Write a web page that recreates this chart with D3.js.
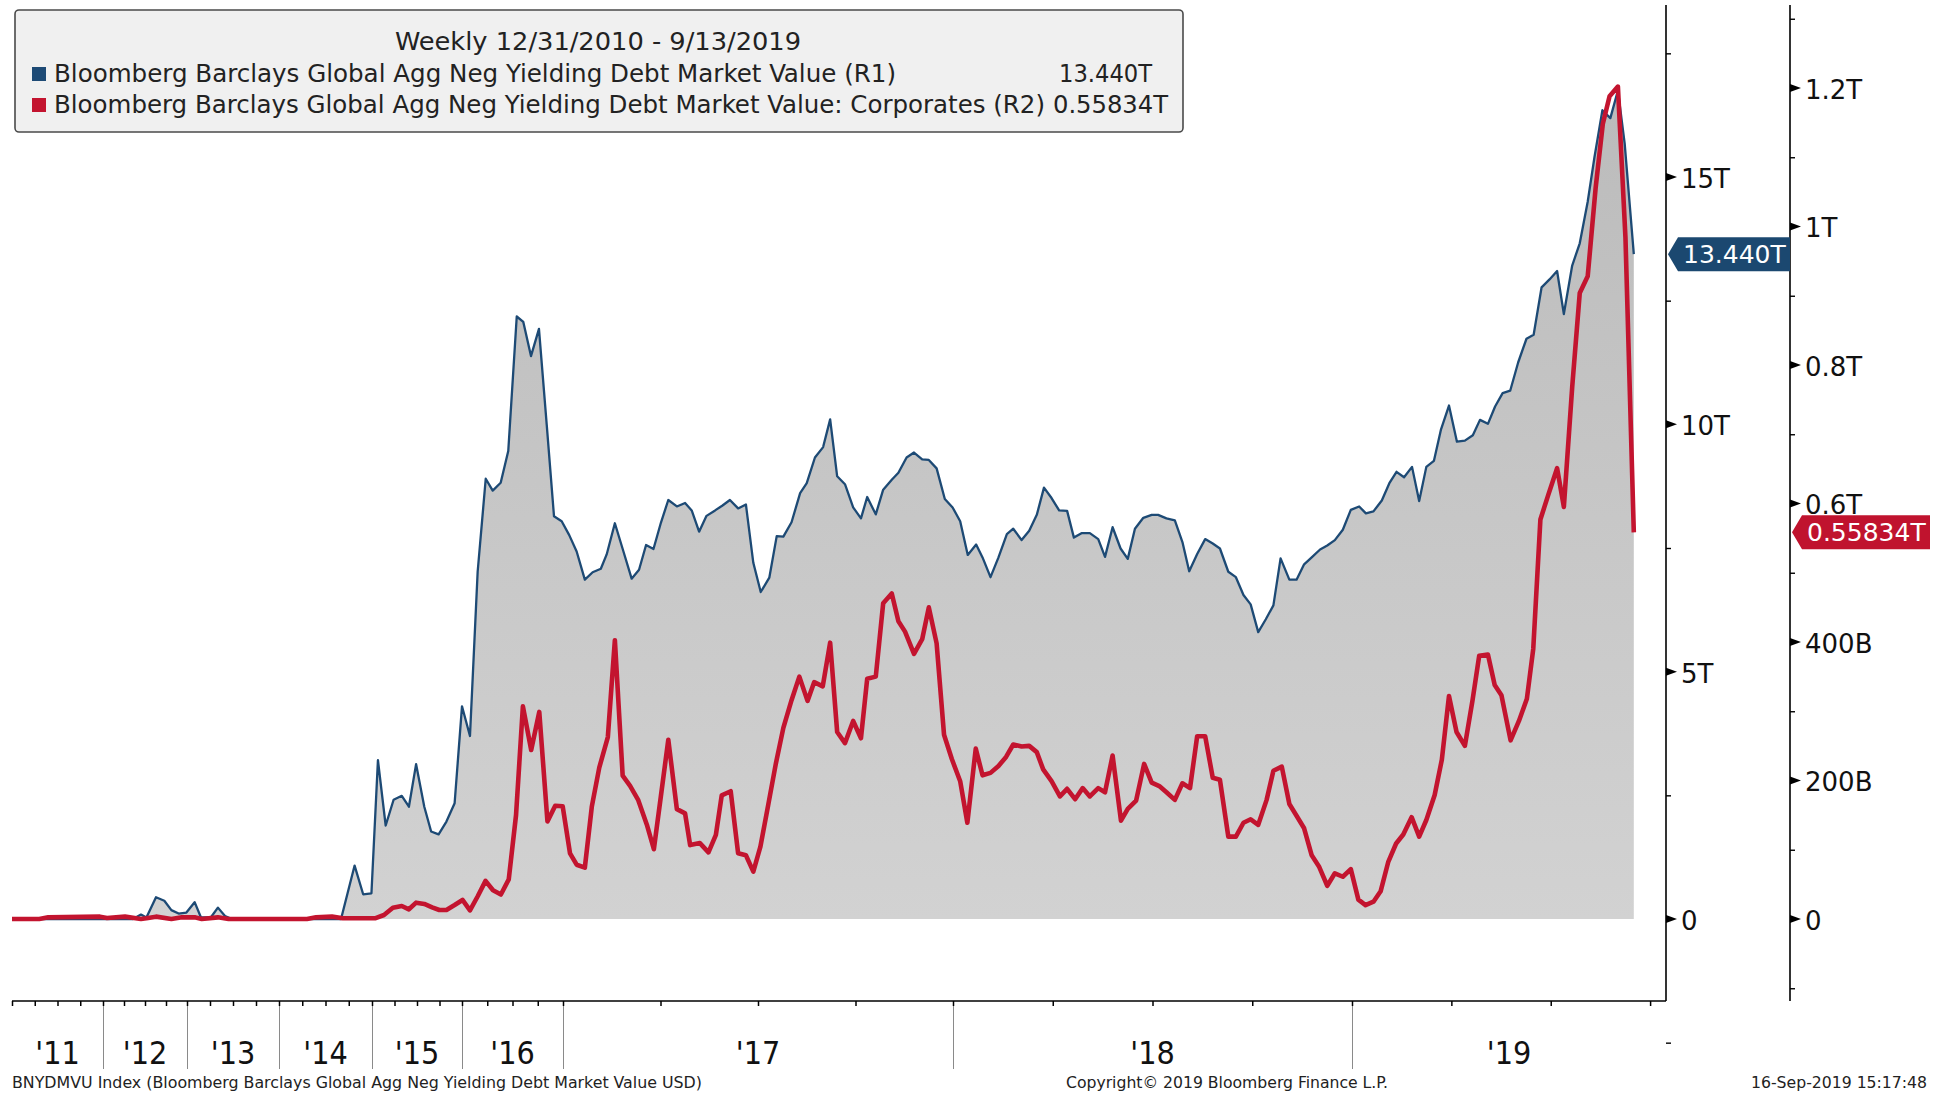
<!DOCTYPE html>
<html>
<head>
<meta charset="utf-8">
<script src="https://cdn.jsdelivr.net/npm/d3@7"></script>
<style>
  body { margin: 0; background: #fff; }
  svg { display: block; font-family: "DejaVu Sans", sans-serif; }
  .cond { font-family: "DejaVu Sans Condensed", "DejaVu Sans", sans-serif; font-stretch: condensed; }
</style>
</head>
<body>
<svg width="1939" height="1093"></svg>
<script>
// R1: total neg-yielding debt (trillions), R2: corporates (billions)
// [decimal year, value] -- monthly until end of 2016, weekly after that
const r1Points = [
  [2011.000, 0], [2012.357, 0], [2012.452, 0.09], [2012.517, 0.03], [2012.631, 0.44], [2012.730, 0.37],
  [2012.814, 0.18], [2012.900, 0.11], [2012.993, 0.13], [2013.083, 0.34], [2013.152, 0.03], [2013.258, 0.03],
  [2013.336, 0.23], [2013.413, 0.06], [2013.489, 0], [2014.667, 0], [2014.813, 1.08], [2014.905, 0.50],
  [2014.994, 0.52], [2015.066, 3.21], [2015.152, 1.89], [2015.240, 2.41], [2015.331, 2.49], [2015.410, 2.27],
  [2015.490, 3.13], [2015.581, 2.27], [2015.657, 1.77], [2015.740, 1.71], [2015.827, 1.97], [2015.918, 2.34],
  [2016.000, 4.30], [2016.079, 3.70], [2016.155, 7.02], [2016.235, 8.90], [2016.304, 8.66], [2016.383, 8.82],
  [2016.458, 9.46], [2016.542, 12.18], [2016.607, 12.07], [2016.683, 11.38], [2016.762, 11.93], [2016.839, 9.99],
  [2016.911, 8.14], [2016.987, 8.04],
  [2017.016, 7.76], [2017.035, 7.43], [2017.056, 6.86], [2017.076, 7.01], [2017.097, 7.08], [2017.112, 7.37],
  [2017.133, 8.00], [2017.155, 7.43], [2017.176, 6.88], [2017.195, 7.06], [2017.213, 7.56], [2017.232, 7.48],
  [2017.251, 8.01], [2017.270, 8.47], [2017.292, 8.34], [2017.313, 8.41], [2017.330, 8.26], [2017.349, 7.83],
  [2017.368, 8.15], [2017.390, 8.26], [2017.409, 8.36], [2017.428, 8.47], [2017.449, 8.30], [2017.469, 8.38],
  [2017.488, 7.20], [2017.507, 6.61], [2017.529, 6.90], [2017.548, 7.74], [2017.565, 7.73], [2017.586, 8.02],
  [2017.608, 8.61], [2017.625, 8.81], [2017.646, 9.33], [2017.667, 9.54], [2017.685, 10.10], [2017.703, 8.95],
  [2017.723, 8.79], [2017.744, 8.32], [2017.764, 8.10], [2017.780, 8.53], [2017.802, 8.18], [2017.821, 8.68],
  [2017.843, 8.88], [2017.860, 9.02], [2017.881, 9.33], [2017.900, 9.43], [2017.921, 9.29], [2017.938, 9.28],
  [2017.958, 9.11], [2017.979, 8.49], [2017.999, 8.32],
  [2018.018, 8.04], [2018.037, 7.36], [2018.058, 7.57], [2018.074, 7.31], [2018.094, 6.91], [2018.114, 7.31],
  [2018.135, 7.78], [2018.151, 7.89], [2018.172, 7.66], [2018.191, 7.85], [2018.210, 8.17], [2018.228, 8.72],
  [2018.247, 8.51], [2018.266, 8.26], [2018.286, 8.25], [2018.303, 7.71], [2018.322, 7.80], [2018.343, 7.80],
  [2018.364, 7.68], [2018.381, 7.32], [2018.400, 7.92], [2018.420, 7.49], [2018.438, 7.28], [2018.456, 7.89],
  [2018.477, 8.11], [2018.498, 8.17], [2018.514, 8.17], [2018.535, 8.10], [2018.556, 8.06], [2018.575, 7.62],
  [2018.592, 7.03], [2018.612, 7.38], [2018.632, 7.68], [2018.651, 7.59], [2018.669, 7.49], [2018.690, 7.02],
  [2018.709, 6.91], [2018.728, 6.55], [2018.746, 6.36], [2018.765, 5.80], [2018.784, 6.06], [2018.803, 6.34],
  [2018.821, 7.29], [2018.843, 6.86], [2018.861, 6.86], [2018.880, 7.17], [2018.899, 7.31], [2018.920, 7.47],
  [2018.938, 7.55], [2018.957, 7.66], [2018.977, 7.87], [2018.997, 8.27],
  [2019.018, 8.34], [2019.035, 8.20], [2019.054, 8.24], [2019.075, 8.46], [2019.094, 8.81], [2019.112, 9.04],
  [2019.131, 8.93], [2019.151, 9.14], [2019.169, 8.45], [2019.187, 9.14], [2019.206, 9.26], [2019.224, 9.90],
  [2019.244, 10.38], [2019.264, 9.65], [2019.284, 9.67], [2019.304, 9.78], [2019.322, 10.09], [2019.342, 10.01],
  [2019.360, 10.36], [2019.379, 10.63], [2019.398, 10.68], [2019.418, 11.25], [2019.439, 11.73], [2019.457, 11.81],
  [2019.477, 12.77], [2019.497, 12.93], [2019.516, 13.10], [2019.533, 12.23], [2019.554, 13.21], [2019.573, 13.66],
  [2019.593, 14.50], [2019.610, 15.40], [2019.630, 16.35], [2019.650, 16.19], [2019.669, 16.75], [2019.686, 15.68],
  [2019.709, 13.44]
];

const r2Points = [
  [2011.000, 0], [2011.300, 0], [2011.398, 2.4], [2011.967, 3.4], [2012.048, 1.5], [2012.262, 3.4],
  [2012.452, 0], [2012.517, 1], [2012.631, 3.4], [2012.814, 0], [2012.940, 2.4], [2013.083, 2.4],
  [2013.160, 0], [2013.336, 2.4], [2013.452, 0], [2014.301, 0], [2014.398, 2.4], [2014.570, 3.4],
  [2014.687, 1], [2015.033, 1], [2015.133, 5.8], [2015.232, 16.3], [2015.331, 18.8], [2015.410, 14],
  [2015.490, 23.6], [2015.581, 21.7], [2015.668, 16.9], [2015.748, 13], [2015.827, 13], [2015.918, 20.2],
  [2016.005, 27.5], [2016.079, 12.5], [2016.157, 33.2], [2016.233, 55], [2016.307, 41.5], [2016.385, 35.4],
  [2016.463, 57.3], [2016.535, 150], [2016.603, 307], [2016.685, 244], [2016.765, 299], [2016.846, 141],
  [2016.923, 163.6], [2016.997, 162.7],
  [2017.018, 94.9], [2017.035, 78.4], [2017.056, 74.2], [2017.074, 162.7], [2017.093, 218.6], [2017.115, 262.8],
  [2017.133, 402.6], [2017.153, 207], [2017.172, 192.2], [2017.193, 171.6], [2017.215, 136.2], [2017.233, 100.8],
  [2017.251, 177.5], [2017.270, 258.8], [2017.292, 158.6], [2017.313, 152.6], [2017.326, 106.7], [2017.351, 109.6],
  [2017.373, 96.2], [2017.392, 121.4], [2017.407, 178.6], [2017.430, 184.5], [2017.449, 94.9], [2017.469, 92],
  [2017.488, 68.4], [2017.506, 104], [2017.526, 164], [2017.546, 225], [2017.565, 276], [2017.586, 316],
  [2017.606, 350], [2017.627, 315], [2017.644, 342], [2017.666, 336], [2017.685, 399], [2017.703, 270],
  [2017.723, 254], [2017.744, 286], [2017.764, 261], [2017.780, 347], [2017.802, 350], [2017.821, 456],
  [2017.843, 470], [2017.860, 430], [2017.877, 415], [2017.900, 383], [2017.921, 404], [2017.938, 450],
  [2017.958, 398], [2017.977, 266], [2017.997, 231],
  [2018.018, 199], [2018.036, 139], [2018.057, 246], [2018.074, 207.5], [2018.094, 211], [2018.114, 221],
  [2018.133, 234], [2018.151, 252], [2018.172, 249], [2018.191, 250], [2018.210, 241], [2018.226, 216],
  [2018.247, 199], [2018.268, 177], [2018.286, 188], [2018.306, 173], [2018.325, 189], [2018.343, 177],
  [2018.364, 189], [2018.381, 183], [2018.400, 236], [2018.421, 142], [2018.438, 159], [2018.459, 171],
  [2018.479, 224], [2018.498, 197], [2018.517, 192], [2018.535, 183], [2018.556, 172], [2018.575, 196],
  [2018.594, 189], [2018.612, 264], [2018.632, 264], [2018.651, 204], [2018.669, 201], [2018.690, 119],
  [2018.709, 119], [2018.728, 139], [2018.746, 144], [2018.765, 136], [2018.786, 172], [2018.803, 214],
  [2018.824, 220], [2018.843, 166], [2018.861, 149], [2018.880, 131], [2018.899, 92], [2018.918, 75],
  [2018.938, 48], [2018.957, 66], [2018.977, 61], [2018.997, 72],
  [2019.016, 28], [2019.034, 20], [2019.054, 25], [2019.072, 40], [2019.091, 82], [2019.111, 109],
  [2019.129, 122], [2019.150, 147], [2019.169, 119], [2019.187, 143], [2019.208, 179], [2019.226, 230],
  [2019.244, 322], [2019.263, 270], [2019.284, 250], [2019.303, 315], [2019.320, 380], [2019.342, 382],
  [2019.359, 338], [2019.376, 323], [2019.399, 258], [2019.420, 286], [2019.440, 318], [2019.456, 390],
  [2019.474, 577], [2019.493, 611], [2019.516, 651], [2019.533, 595], [2019.554, 768], [2019.573, 904],
  [2019.593, 928], [2019.613, 1056], [2019.631, 1148], [2019.648, 1188], [2019.669, 1202], [2019.688, 984],
  [2019.709, 558.34]
];

const years = [2011, 2012, 2013, 2014, 2015, 2016, 2017, 2018, 2019];
const yearLabels = ["'11", "'12", "'13", "'14", "'15", "'16", "'17", "'18", "'19"];
const leftTicks = [0, 5, 10, 15];
const leftTickLabels = ['0', '5T', '10T', '15T'];
const rightTicks = [0, 200, 400, 600, 800, 1000, 1200];
const rightTickLabels = ['0', '200B', '400B', '0.6T', '0.8T', '1T', '1.2T'];

const legendTitle = 'Weekly 12/31/2010 - 9/13/2019';
const seriesNames = [
  'Bloomberg Barclays Global Agg Neg Yielding Debt Market Value (R1)',
  'Bloomberg Barclays Global Agg Neg Yielding Debt Market Value: Corporates (R2)'
];
const lastLabels = ['13.440T', '0.55834T'];

const blue = '#1d4a75';
const red = '#c3142f';

const svg = d3.select('svg');

// bloomberg plots by observation, monthly years get squeezed
const axisEnd = 2019.79;
const edgeYears = years.concat([axisEnd]);
const edgePx = [12, 103, 187, 279, 372, 462, 563, 953, 1352, 1666];
const xScale = d3.scaleLinear().domain(edgeYears).range(edgePx);

const zeroY = 919;
const yLeft = d3.scaleLinear().domain([0, 15]).range([zeroY, 177]);
const yRight = d3.scaleLinear().domain([0, 1200]).range([zeroY, 88]);

const axisTopY = 5;
const axisBottomY = 1001;
const leftAxisX = 1666;
const rightAxisX = 1790;

// gradient for the shaded area
const defs = svg.append('defs');
const grad = defs.append('linearGradient')
  .attr('id', 'areaGrad')
  .attr('gradientUnits', 'userSpaceOnUse')
  .attr('x1', 0).attr('x2', 0)
  .attr('y1', 80).attr('y2', zeroY);
grad.append('stop').attr('offset', '0%').attr('stop-color', '#bbbbbb');
grad.append('stop').attr('offset', '100%').attr('stop-color', '#d2d2d2');

const area = d3.area()
  .x(d => xScale(d[0]))
  .y0(yLeft(0))
  .y1(d => yLeft(d[1]));

svg.append('path')
  .datum(r1Points)
  .attr('d', area)
  .attr('fill', 'url(#areaGrad)');

svg.append('path')
  .datum(r1Points)
  .attr('d', d3.line().x(d => xScale(d[0])).y(d => yLeft(d[1])))
  .attr('fill', 'none')
  .attr('stroke', blue)
  .attr('stroke-width', 2.3)
  .attr('stroke-linejoin', 'round');

svg.append('path')
  .datum(r2Points)
  .attr('d', d3.line().x(d => xScale(d[0])).y(d => yRight(d[1])))
  .attr('fill', 'none')
  .attr('stroke', red)
  .attr('stroke-width', 4.6)
  .attr('stroke-linejoin', 'round');

// ---- x axis ----
const xAxisG = svg.append('g').attr('transform', `translate(0,${axisBottomY})`);
const quarters = d3.range(2011, axisEnd, 0.25);

xAxisG.append('g')
  .call(d3.axisBottom(xScale).tickValues(years.slice(1)).tickSize(68).tickFormat(''))
  .call(g => g.select('.domain').remove())
  .call(g => g.selectAll('line').attr('stroke', '#8a8a8a').attr('stroke-width', 1));

xAxisG.append('g')
  .call(d3.axisBottom(xScale).tickValues(quarters).tickSize(5).tickFormat(''))
  .call(g => g.select('.domain').remove())
  .call(g => g.selectAll('line').attr('stroke', '#000').attr('stroke-width', 1.5));

xAxisG.append('line')
  .attr('x1', xScale(2011)).attr('x2', leftAxisX)
  .attr('stroke', '#000').attr('stroke-width', 1.6);

xAxisG.selectAll('.year-label')
  .data(years)
  .join('text')
  .attr('class', 'year-label cond')
  .attr('x', (d, i) => (xScale(d) + xScale(edgeYears[i + 1])) / 2)
  .attr('y', 63)
  .attr('text-anchor', 'middle')
  .attr('font-size', 32)
  .attr('fill', '#111')
  .text((d, i) => yearLabels[i]);

// ---- y axes ----
const drawYAxis = (x, scale, majors, labels, minors) => {
  const g = svg.append('g').attr('transform', `translate(${x},0)`);
  g.append('line')
    .attr('y1', axisTopY).attr('y2', axisBottomY)
    .attr('stroke', '#000').attr('stroke-width', 1.6);

  g.append('g')
    .call(d3.axisRight(scale).tickValues(minors).tickSize(5).tickFormat(''))
    .call(s => s.select('.domain').remove())
    .call(s => s.selectAll('line').attr('stroke', '#000').attr('stroke-width', 1.4));

  g.append('g')
    .call(d3.axisRight(scale).tickValues(majors).tickSize(0).tickPadding(15)
      .tickFormat((d, i) => labels[i]))
    .call(s => s.select('.domain').remove())
    .call(s => s.selectAll('text')
      .attr('font-family', '"DejaVu Sans", sans-serif')
      .attr('font-size', 26)
      .attr('dy', '0.4em')
      .attr('fill', '#111'));

  g.selectAll('.tri')
    .data(majors)
    .join('path')
    .attr('class', 'tri')
    .attr('d', d => `M0,${scale(d) - 4}L11,${scale(d)}L0,${scale(d) + 4}Z`)
    .attr('fill', '#000');
};

drawYAxis(leftAxisX, yLeft, leftTicks, leftTickLabels, [-2.5, 2.5, 7.5, 12.5, 17.5]);
drawYAxis(rightAxisX, yRight, rightTicks, rightTickLabels, [-100, 100, 300, 500, 700, 900, 1100, 1300]);

// ---- last value tags ----
const tag = (xTip, yMid, w, color, label) => {
  const h = 17;
  svg.append('path')
    .attr('d', `M${xTip},${yMid}L${xTip + 10},${yMid - h}L${xTip + w},${yMid - h}` +
      `L${xTip + w},${yMid + h}L${xTip + 10},${yMid + h}Z`)
    .attr('fill', color);
  svg.append('text')
    .attr('x', xTip + 15)
    .attr('y', yMid)
    .attr('dy', '0.36em')
    .attr('font-size', 25)
    .attr('fill', '#fff')
    .text(label);
};
const lastR1 = r1Points[r1Points.length - 1][1];
const lastR2 = r2Points[r2Points.length - 1][1];
tag(leftAxisX + 2, yLeft(lastR1), rightAxisX - leftAxisX - 2, '#1b4870', lastLabels[0]);
tag(rightAxisX + 2, yRight(lastR2), 138, '#c0132e', lastLabels[1]);

// ---- legend ----
// text lengths pinned so the wide terminal font is matched
const legend = svg.append('g').attr('class', 'cond');
legend.append('rect')
  .attr('x', 15).attr('y', 10)
  .attr('width', 1168).attr('height', 122)
  .attr('rx', 4)
  .attr('fill', '#f0f0f0')
  .attr('stroke', '#4a4a4a')
  .attr('stroke-width', 1.6);

legend.append('text')
  .attr('x', 598).attr('y', 50)
  .attr('text-anchor', 'middle')
  .attr('font-size', 24)
  .attr('textLength', 406)
  .attr('lengthAdjust', 'spacingAndGlyphs')
  .attr('fill', '#222')
  .text(legendTitle);

const nameLengths = [842, 991];
const valueX = [1059, 1053];
const valueLengths = [93, 115];

const legendRows = legend.selectAll('.row')
  .data(seriesNames)
  .join('g')
  .attr('class', 'row')
  .attr('transform', (d, i) => `translate(0,${82 + i * 31})`);

legendRows.append('rect')
  .attr('x', 32).attr('y', -15)
  .attr('width', 14).attr('height', 14)
  .attr('fill', (d, i) => [blue, red][i]);

legendRows.append('text')
  .attr('x', 54)
  .attr('font-size', 24)
  .attr('textLength', (d, i) => nameLengths[i])
  .attr('lengthAdjust', 'spacingAndGlyphs')
  .attr('fill', '#222')
  .text(d => d);

legendRows.append('text')
  .attr('x', (d, i) => valueX[i])
  .attr('font-size', 24)
  .attr('textLength', (d, i) => valueLengths[i])
  .attr('lengthAdjust', 'spacingAndGlyphs')
  .attr('fill', '#222')
  .text((d, i) => lastLabels[i]);

// ---- footer ----
const footer = svg.append('g').attr('class', 'cond').attr('font-size', 16).attr('fill', '#222');
footer.append('text').attr('x', 12).attr('y', 1088)
  .attr('textLength', 690).attr('lengthAdjust', 'spacingAndGlyphs')
  .text('BNYDMVU Index (Bloomberg Barclays Global Agg Neg Yielding Debt Market Value USD)');
footer.append('text').attr('x', 1227).attr('y', 1088).attr('text-anchor', 'middle')
  .attr('textLength', 322).attr('lengthAdjust', 'spacingAndGlyphs')
  .text('Copyright\u00a9 2019 Bloomberg Finance L.P.');
footer.append('text').attr('x', 1927).attr('y', 1088).attr('text-anchor', 'end')
  .attr('textLength', 176).attr('lengthAdjust', 'spacingAndGlyphs')
  .text('16-Sep-2019 15:17:48');
</script>
</body>
</html>
